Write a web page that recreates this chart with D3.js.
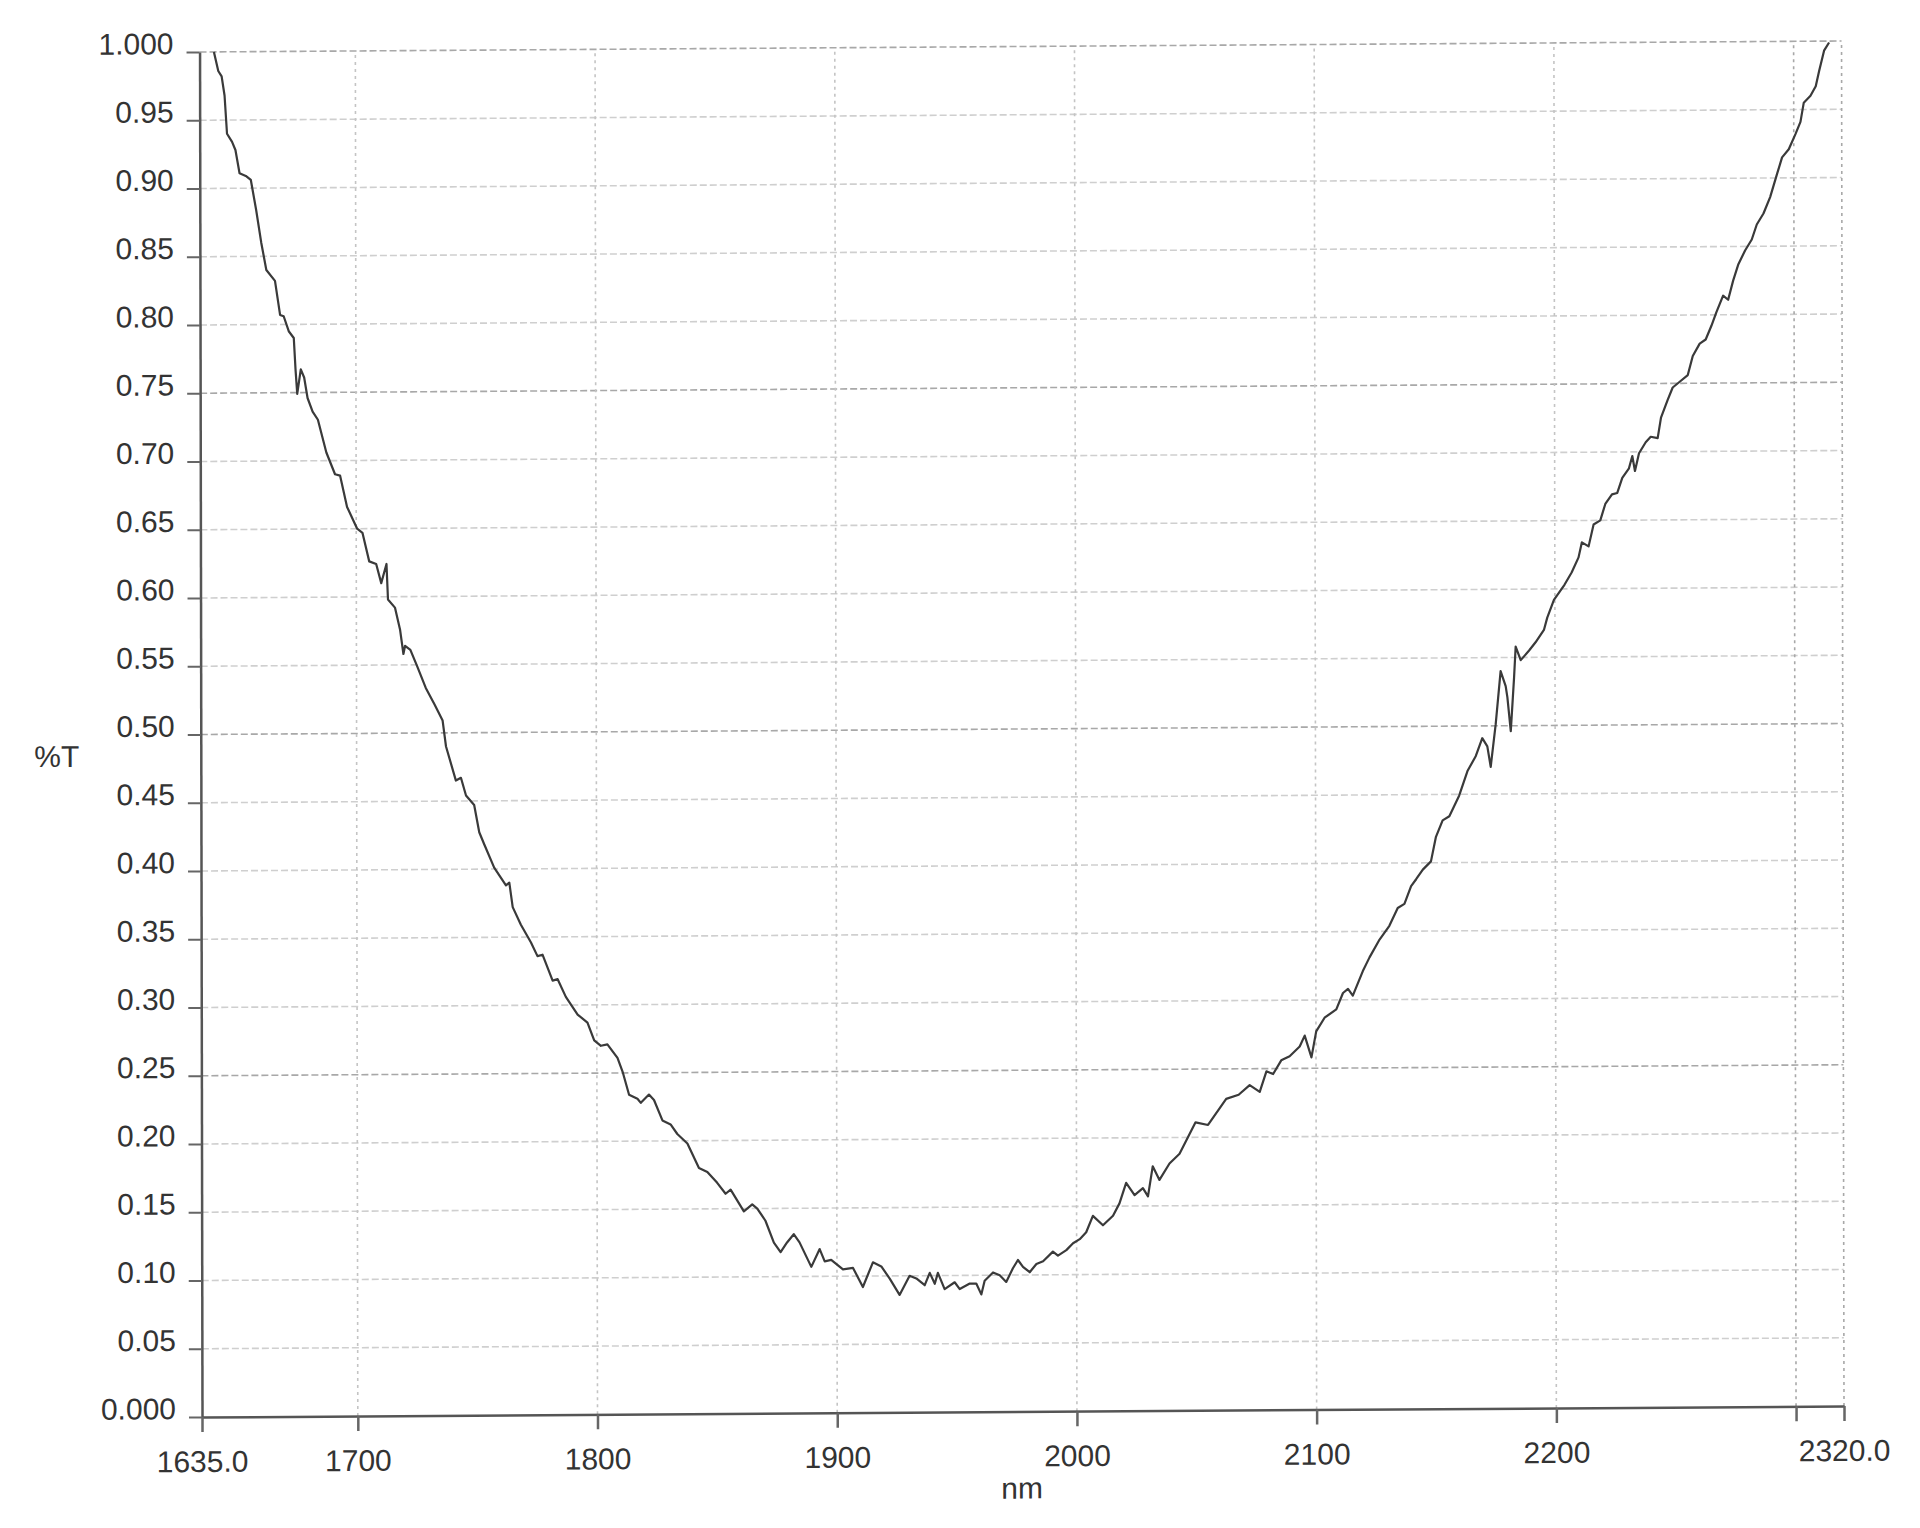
<!DOCTYPE html>
<html><head><meta charset="utf-8">
<script src="https://cdn.jsdelivr.net/npm/d3@7"></script>
<style>body{margin:0;background:#fff} svg{display:block}</style>
</head><body><svg id="c" width="1920" height="1528"></svg>
<script>
const wavelength = [
1641,1642.8,1644.2,1645.4,1646.4,1648.5,1649.9,1651.6,1654.2,1656.3,1658.5,1660.6,1662.7,1666.3,1668.4,1669.9,1672.0,1674.1,1674.8,1675.5,
1677.0,1678.4,1679.8,1681.9,1684.1,1687.6,1691.2,1693.3,1696.2,1700.4,1702.6,1705.4,1708.3,1710.4,1712.6,1713.2,1716.1,1718.2,1719.6,1720.3,
1722.5,1725.3,1728.9,1732.5,1735.9,1737.3,1741.4,1743.5,1745.6,1749.0,1751.1,1753.2,1757.3,1762.2,1763.6,1765.0,1768.4,1772.6,1775.3,1777.4,
1781.6,1783.7,1787.1,1792.0,1796.1,1798.9,1801.7,1804.4,1808.6,1810.7,1813.4,1816.9,1818.3,1821.7,1823.8,1827.3,1830.7,1833.5,1837.7,1842.5,
1846.0,1850.1,1853.6,1855.7,1861.2,1864.7,1866.8,1870.2,1873.7,1876.5,1879.2,1882.0,1884.4,1889.3,1892.8,1894.9,1897.6,1902.5,1906.7,1910.8,
1915.0,1918.5,1922.0,1926.1,1930.3,1933.1,1936.6,1938.7,1940.8,1942.1,1944.9,1949.1,1951.2,1955.4,1958.1,1960.2,1961.6,1965.1,1967.9,1970.6,
1973.4,1975.5,1977.6,1980.4,1983.2,1986.0,1990.1,1992.2,1995.7,1998.5,2001.3,2004.0,2006.8,2011.0,2015.2,2017.9,2020.7,2024.2,2027.7,2029.8,
2031.8,2034.6,2038.8,2043.0,2049.7,2054.9,2062.5,2067.7,2072.3,2076.5,2079.3,2082.1,2085.5,2089.0,2093.2,2095.3,2098.1,2100.1,2103.6,2108.5,
2111.3,2113.4,2115.4,2119.6,2122.4,2126.6,2130.7,2134.2,2137.0,2139.8,2141.9,2144.7,2148.1,2150.2,2153.0,2155.8,2159.9,2163.4,2166.9,2169.6,
2171.7,2173.1,2175.2,2177.3,2179.4,2180.1,2181.5,2182.9,2183.6,2185.7,2189.2,2191.9,2195.4,2196.8,2199.6,2204.0,2207.0,2209.9,2211.3,2214.1,
2216.2,2219.0,2221.1,2223.9,2226.1,2228.2,2231.0,2232.4,2233.5,2235.2,2238.0,2240.1,2243.0,2244.4,2247.2,2249.3,2252.1,2255.6,2257.7,2260.6,
2263.1,2265.5,2267.6,2270.4,2272.5,2274.6,2276.8,2279.6,2282.4,2284.5,2287.3,2290.1,2293.0,2295.1,2297.9,2300.7,2302.8,2304.2,2307.0,2309.2,
2310.6,2312.7,2314.8];
const transmittance = [
1.000,0.986,0.982,0.968,0.940,0.934,0.928,0.911,0.909,0.906,0.884,0.860,0.840,0.832,0.807,0.806,0.795,0.790,0.767,0.749,
0.767,0.761,0.746,0.736,0.730,0.706,0.690,0.689,0.666,0.650,0.647,0.626,0.624,0.610,0.624,0.598,0.592,0.576,0.558,0.564,
0.561,0.549,0.533,0.521,0.509,0.490,0.465,0.467,0.454,0.447,0.427,0.418,0.401,0.388,0.390,0.372,0.359,0.346,0.336,0.337,
0.318,0.319,0.306,0.293,0.287,0.274,0.270,0.271,0.261,0.251,0.234,0.231,0.228,0.234,0.230,0.215,0.212,0.205,0.198,0.180,
0.177,0.169,0.161,0.164,0.148,0.153,0.150,0.141,0.125,0.118,0.125,0.131,0.125,0.107,0.120,0.111,0.112,0.105,0.106,0.092,
0.110,0.107,0.098,0.086,0.100,0.098,0.093,0.102,0.094,0.102,0.090,0.095,0.090,0.094,0.094,0.086,0.096,0.102,0.100,0.095,
0.105,0.111,0.106,0.102,0.108,0.110,0.117,0.114,0.118,0.123,0.126,0.131,0.143,0.136,0.143,0.152,0.167,0.158,0.163,0.157,
0.179,0.169,0.181,0.188,0.211,0.209,0.228,0.231,0.238,0.233,0.248,0.246,0.256,0.259,0.266,0.274,0.258,0.277,0.287,0.293,
0.305,0.308,0.303,0.321,0.331,0.344,0.354,0.367,0.370,0.383,0.388,0.395,0.401,0.419,0.431,0.434,0.449,0.467,0.478,0.491,
0.485,0.470,0.501,0.540,0.529,0.521,0.496,0.535,0.558,0.548,0.555,0.561,0.570,0.579,0.592,0.603,0.612,0.623,0.634,0.631,
0.647,0.650,0.662,0.669,0.670,0.681,0.688,0.697,0.686,0.699,0.707,0.711,0.710,0.725,0.738,0.747,0.751,0.756,0.770,0.779,
0.782,0.792,0.802,0.814,0.811,0.825,0.837,0.847,0.855,0.866,0.874,0.886,0.903,0.915,0.921,0.932,0.941,0.955,0.960,0.967,
0.978,0.993,0.999];
const xTickValues = [1635, 1700, 1800, 1900, 2000, 2100, 2200, 2300, 2320];
const xTickLabels = ["1635.0", "1700", "1800", "1900", "2000", "2100", "2200", "", "2320.0"];
const yTickValues = [0, 0.05, 0.10, 0.15, 0.20, 0.25, 0.30, 0.35, 0.40, 0.45, 0.50, 0.55, 0.60, 0.65, 0.70, 0.75, 0.80, 0.85, 0.90, 0.95, 1.0];
const yTickLabels = ["0.000","0.05","0.10","0.15","0.20","0.25","0.30","0.35","0.40","0.45","0.50","0.55","0.60","0.65","0.70","0.75","0.80","0.85","0.90","0.95","1.000"];
const xAxisTitle = "nm";
const yAxisTitle = "%T";

const svg = d3.select("#c");
const L = 202, R = 1844, T = 52, B = 1417;
const x = d3.scaleLinear().domain([1635, 2320]).range([L, R]);
const y = d3.scaleLinear().domain([0, 1]).range([B, T]);
const FONT = "'Liberation Sans', Arial, sans-serif";

const g = svg.append("g")
  .attr("transform", `translate(${L},${B}) matrix(1,-0.0067,0.0018,1,0,0) translate(${-L},${-B})`);

// horizontal grid
g.append("g").selectAll("line").data(yTickValues.filter(v => v > 0))
  .join("line")
  .attr("x1", L).attr("x2", R)
  .attr("y1", d => y(d)).attr("y2", d => y(d))
  .attr("stroke", d => (Math.abs(d - 0.25) < 1e-6 || Math.abs(d - 0.5) < 1e-6 || Math.abs(d - 0.75) < 1e-6 || d === 1) ? "#a8a8a8" : "#cfcfcf")
  .attr("stroke-width", 1.6)
  .attr("stroke-dasharray", "7,3");

// vertical grid
g.append("g").selectAll("line").data(xTickValues.filter(v => v > 1635))
  .join("line")
  .attr("x1", d => x(d)).attr("x2", d => x(d))
  .attr("y1", B).attr("y2", T)
  .attr("stroke", d => d >= 2300 ? "#a8a8a8" : "#c4c4c4")
  .attr("stroke-width", 1.6)
  .attr("stroke-dasharray", "3,4");

// curve
const pts = wavelength.map((w, i) => [w, transmittance[i]]);
g.append("path").datum(pts)
  .attr("fill", "none")
  .attr("stroke", "#3a3a3a")
  .attr("stroke-width", 2.2)
  .attr("stroke-linejoin", "round")
  .attr("d", d3.line().x(d => x(d[0])).y(d => y(d[1])));

// left axis
const ya = g.append("g").attr("transform", `translate(${L},0)`)
  .call(d3.axisLeft(y).tickValues(yTickValues).tickFormat((d, i) => yTickLabels[i]).tickSize(13).tickSizeOuter(0).tickPadding(13));
ya.select(".domain").attr("stroke", "#555").attr("stroke-width", 2.5);
ya.selectAll(".tick line").attr("stroke", "#666").attr("stroke-width", 2);
ya.selectAll(".tick text").attr("font-family", FONT).attr("font-size", 30).attr("fill", "#333").attr("dy", 1.5);

// bottom axis
const xa = g.append("g").attr("transform", `translate(0,${B})`)
  .call(d3.axisBottom(x).tickValues(xTickValues).tickFormat((d, i) => xTickLabels[i]).tickSize(15).tickSizeOuter(0));
xa.select(".domain").attr("stroke", "#555").attr("stroke-width", 2.5);
xa.selectAll(".tick line").attr("stroke", "#666").attr("stroke-width", 2.5);
xa.selectAll(".tick text").attr("font-family", FONT).attr("font-size", 30).attr("fill", "#333").attr("y", 55).attr("dy", 0);

// titles
g.append("text").attr("x", (L + R) / 2 - 1).attr("y", 1504).attr("text-anchor", "middle")
  .attr("font-family", FONT).attr("font-size", 30).attr("fill", "#333").text(xAxisTitle);
g.append("text").attr("x", 58).attr("y", 766).attr("text-anchor", "middle")
  .attr("font-family", FONT).attr("font-size", 30).attr("fill", "#333").text(yAxisTitle);
</script>
</body></html>
